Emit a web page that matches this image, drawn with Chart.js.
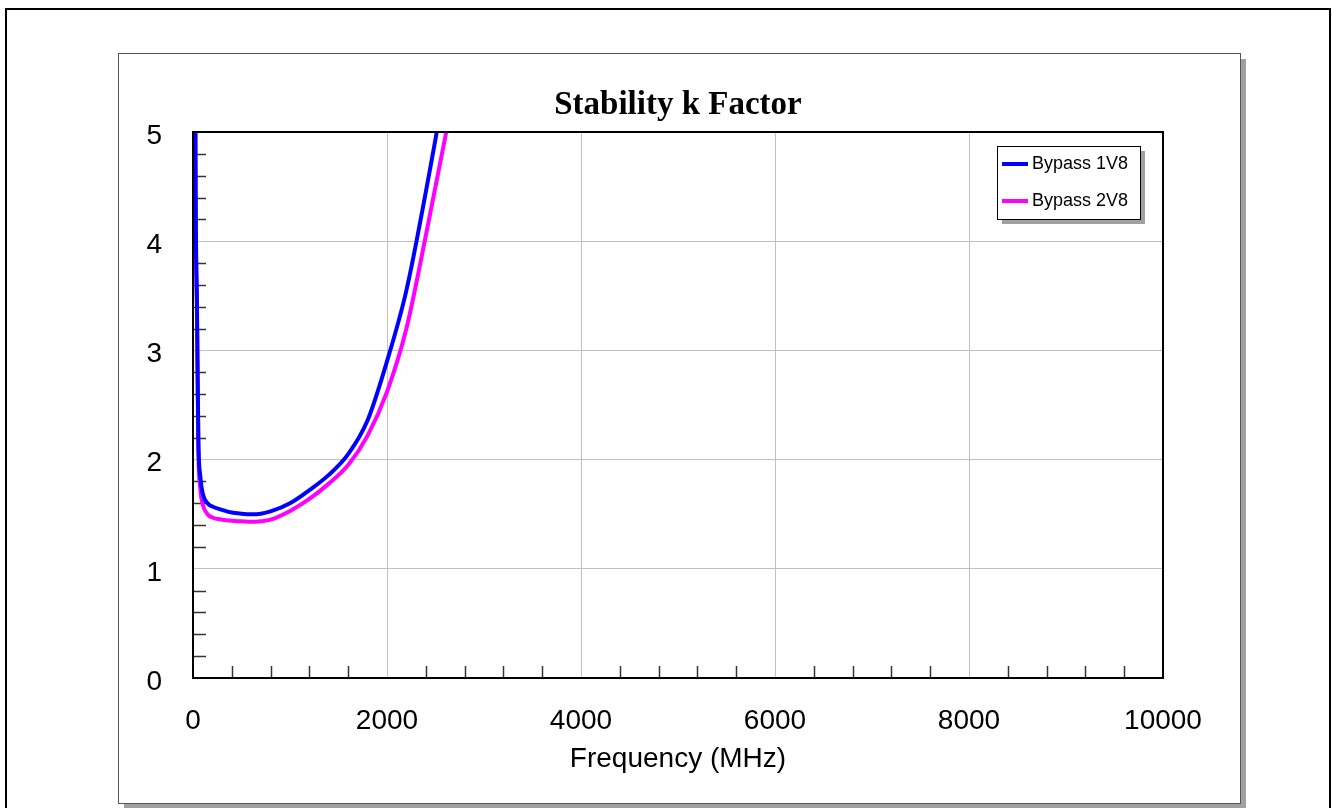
<!DOCTYPE html>
<html lang="en">

<head>
    <meta charset="UTF-8">
    <title>Stability k Factor</title>
    <script src="https://cdn.jsdelivr.net/npm/chart.js"></script>
    <style>
        body {
            margin: 0;
            background: #fff;
        }
    </style>
</head>

<body>
    <canvas id="chart" width="1332" height="808"></canvas>

    <script>
        // Values
        const freqMHz = [10, 25, 40, 55, 75, 100, 150, 200, 300, 400, 500, 600, 700, 800, 1000, 1200, 1400, 1600, 1800, 2000, 2200, 2400, 2600, 2800];
        const kBypass1V8 = [15, 5.0, 3.5, 2.2, 1.85, 1.69, 1.6, 1.57, 1.54, 1.515, 1.505, 1.5, 1.505, 1.525, 1.6, 1.72, 1.86, 2.05, 2.36, 2.9, 3.55, 4.45, 5.45, 6.6];
        const kBypass2V8 = [15, 4.95, 3.4, 2.1, 1.74, 1.59, 1.5, 1.47, 1.45, 1.44, 1.435, 1.43, 1.435, 1.45, 1.53, 1.64, 1.78, 1.95, 2.22, 2.62, 3.2, 4.05, 4.95, 5.9];
        const seriesNames = ['Bypass 1V8', 'Bypass 2V8'];
        const seriesColors = ['#0000ff', '#ff00ff'];
        const chartTitle = 'Stability k Factor';
        const xMajorTicks = [0, 2000, 4000, 6000, 8000, 10000];
        const yMajorTicks = [0, 1, 2, 3, 4, 5];
        const xMinorStep = 400;
        const yMinorStep = 0.2;

        const isMajor = (list, v) => list.some(m => Math.abs(m - v) < 1e-6);
        const toPoints = ys => freqMHz.map((f, i) => ({ x: f, y: ys[i] }));

        const AXIS_FONT = { family: 'Arial, "Liberation Sans", sans-serif', size: 28 };

        // page frames, title over the plot, inward minor ticks, plot border and boxed legend
        const decor = {
            id: 'decor',
            beforeDraw(chart) {
                const c = chart.ctx;
                const a = chart.chartArea;
                c.save();
                c.fillStyle = '#fff';
                c.fillRect(0, 0, chart.width, chart.height);
                c.strokeStyle = '#000';
                c.lineWidth = 2;
                c.strokeRect(6, 9, 1324, 840);
                // inner panel with shadow
                c.fillStyle = '#a0a0a0';
                c.fillRect(124, 59, 1122, 760);
                c.fillStyle = '#fff';
                c.fillRect(118.5, 53.5, 1122, 750);
                c.strokeStyle = '#555';
                c.lineWidth = 1;
                c.strokeRect(118.5, 53.5, 1122, 750);
                // title
                c.fillStyle = '#000';
                c.font = 'bold 33px "Times New Roman", "Liberation Serif", serif';
                c.textAlign = 'center';
                c.textBaseline = 'middle';
                c.fillText(chartTitle, (a.left + a.right) / 2, 105);
                c.restore();
            },
            beforeDatasetsDraw(chart) {
                const { ctx: c, chartArea: a, scales } = chart;
                c.save();
                c.strokeStyle = '#333';
                c.lineWidth = 1.5;
                scales.x.ticks.forEach(t => {
                    if (isMajor(xMajorTicks, t.value)) return;
                    const px = Math.round(scales.x.getPixelForValue(t.value)) + 0.5;
                    c.beginPath();
                    c.moveTo(px, a.bottom);
                    c.lineTo(px, a.bottom - 12);
                    c.stroke();
                });
                scales.y.ticks.forEach(t => {
                    if (isMajor(yMajorTicks, t.value)) return;
                    const py = Math.round(scales.y.getPixelForValue(t.value)) + 0.5;
                    c.beginPath();
                    c.moveTo(a.left, py);
                    c.lineTo(a.left + 13, py);
                    c.stroke();
                });
                c.restore();
            },
            afterDraw(chart) {
                const { ctx: c, chartArea: a } = chart;
                c.save();
                c.strokeStyle = '#000';
                c.lineWidth = 2;
                c.strokeRect(a.left, a.top, a.right - a.left, a.bottom - a.top);

                // legend box
                const lx = 997, ly = 146, lw = 143, lh = 73;
                c.fillStyle = '#a0a0a0';
                c.fillRect(lx + 5, ly + 5, lw, lh);
                c.fillStyle = '#fff';
                c.fillRect(lx, ly, lw, lh);
                c.strokeStyle = '#000';
                c.lineWidth = 1;
                c.strokeRect(lx + 0.5, ly + 0.5, lw, lh);
                c.font = '18px Arial, "Liberation Sans", sans-serif';
                c.textBaseline = 'middle';
                c.textAlign = 'left';
                chart.data.datasets.forEach((ds, i) => {
                    const y = 164 + i * 37;
                    c.strokeStyle = ds.borderColor;
                    c.lineWidth = 4;
                    c.beginPath();
                    c.moveTo(1002, y);
                    c.lineTo(1028, y);
                    c.stroke();
                    c.fillStyle = '#000';
                    c.fillText(ds.label, 1032, y);
                });
                c.restore();
            }
        };

        new Chart(document.getElementById('chart'), {
            type: 'line',
            data: {
                datasets: [
                    { label: seriesNames[0], data: toPoints(kBypass1V8), borderColor: seriesColors[0] },
                    { label: seriesNames[1], data: toPoints(kBypass2V8), borderColor: seriesColors[1] }
                ].map(d => Object.assign(d, {
                    borderWidth: 4,
                    pointRadius: 0,
                    fill: false,
                    cubicInterpolationMode: 'monotone'
                }))
            },
            options: {
                responsive: false,
                animation: false,
                devicePixelRatio: 1,
                layout: { padding: { left: 0, right: 169, top: 132, bottom: 0 } },
                scales: {
                    x: {
                        type: 'linear',
                        min: 0,
                        max: 10000,
                        afterFit: s => { s.height = 130; },
                        ticks: {
                            stepSize: xMinorStep,
                            autoSkip: false,
                            maxRotation: 0,
                            padding: 26,
                            color: '#000',
                            font: AXIS_FONT,
                            callback: v => isMajor(xMajorTicks, v) ? String(v) : ''
                        },
                        grid: {
                            drawTicks: false,
                            lineWidth: 1,
                            color: ctx => (ctx.tick && isMajor(xMajorTicks.slice(1, -1), ctx.tick.value)) ? '#c0c0c0' : 'rgba(0,0,0,0)'
                        },
                        border: { display: false },
                        title: {
                            display: true,
                            text: 'Frequency (MHz)',
                            color: '#000',
                            font: AXIS_FONT,
                            padding: { top: 0, bottom: 32 }
                        }
                    },
                    y: {
                        min: 0,
                        max: 5,
                        afterFit: s => { s.width = 193; },
                        ticks: {
                            stepSize: yMinorStep,
                            autoSkip: false,
                            padding: 31,
                            labelOffset: 4,
                            color: '#000',
                            font: AXIS_FONT,
                            callback: v => isMajor(yMajorTicks, v) ? String(Math.round(v)) : ''
                        },
                        grid: {
                            drawTicks: false,
                            lineWidth: 1,
                            color: ctx => (ctx.tick && isMajor(yMajorTicks.slice(1, -1), ctx.tick.value)) ? '#c0c0c0' : 'rgba(0,0,0,0)'
                        },
                        border: { display: false }
                    }
                },
                plugins: {
                    legend: { display: false },
                    tooltip: { enabled: false },
                    title: { display: false }
                }
            },
            plugins: [decor]
        });
    </script>

</body>

</html>
